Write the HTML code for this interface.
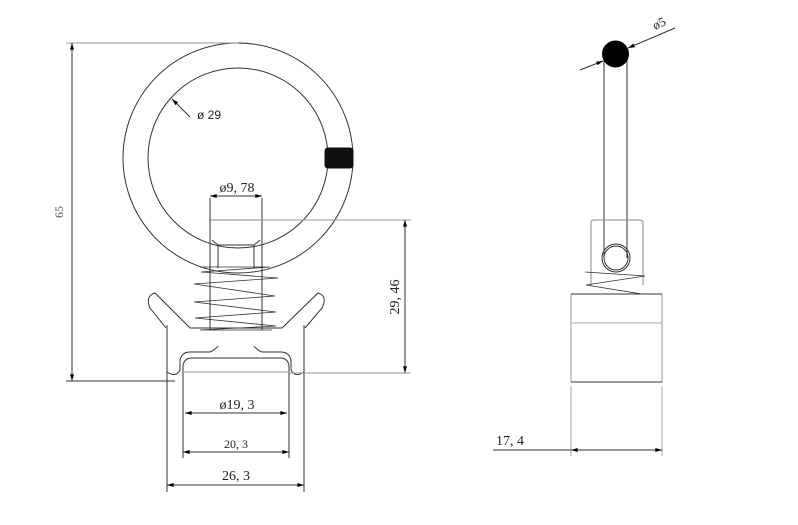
<!DOCTYPE html>
<html><head><style>html,body{margin:0;padding:0;background:#fff}svg{display:block}</style></head>
<body>
<svg width="798" height="525" viewBox="0 0 798 525" xmlns="http://www.w3.org/2000/svg" font-family="Liberation Serif, serif">
<defs>
<marker id="a" viewBox="0 0 10 6" refX="10" refY="3" markerWidth="8" markerHeight="4" orient="auto-start-reverse"><path d="M0,0L10,3L0,6z" fill="#000"/></marker>
</defs>
<g fill="none" stroke="#333" stroke-width="1">
<!-- ring -->
<circle cx="238" cy="158" r="115"/>
<circle cx="238" cy="158" r="90"/>
<!-- plug -->
<rect x="325" y="148" width="28" height="20" rx="3" fill="#111" stroke="#111"/>
<!-- shaft -->
<line x1="210" y1="198" x2="210" y2="330"/>
<line x1="262" y1="198" x2="262" y2="330"/>
<line x1="210" y1="220" x2="262" y2="220" stroke="#888"/>
<path d="M212,240 L218,245 L254,245 L260,240 M218,245 L218,268 M254,245 L254,268"/>
<!-- spring -->
<path d="M200,267 L270,267 L201,272 L278,278 L194,284 L275,296 L194,302 L276,312 L195,318 L276,326 L200,330 L272,330" stroke-width="0.8"/>
<!-- clip arms -->
<path d="M166,328 L150,308 Q145,296 155,293 L190,328 L282,328 L318,293 Q328,296 322,308 L305,328"/>
<!-- body -->
<line x1="167" y1="325" x2="167" y2="492"/>
<line x1="304" y1="325" x2="304" y2="492"/>
<path d="M167,372 Q176,378 180,370 L180,360 Q182,352 190,352 L210,352 Q215,350 218,346"/>
<path d="M304,372 Q295,378 291,370 L291,360 Q289,352 281,352 L262,352 Q257,350 254,346"/>
<path d="M183,458 L183,366 Q184,358 192,358 L280,358 Q288,358 289,366 L289,458"/>
<line x1="183" y1="372" x2="289" y2="372" stroke="#999"/>
<!-- dim 65 -->
<line x1="66" y1="43" x2="238" y2="43" stroke="#999"/>
<line x1="66" y1="381" x2="175" y2="381"/>
<line x1="72" y1="43" x2="72" y2="381" marker-start="url(#a)" marker-end="url(#a)"/>
<!-- dim 29,46 -->
<line x1="262" y1="220" x2="411" y2="220" stroke="#999"/>
<line x1="290" y1="373" x2="411" y2="373" stroke="#999"/>
<line x1="405" y1="220" x2="405" y2="373" marker-start="url(#a)" marker-end="url(#a)"/>
<!-- dim 9,78 -->
<line x1="210" y1="196" x2="262" y2="196" marker-start="url(#a)" marker-end="url(#a)"/>
<!-- dims bottom -->
<line x1="185" y1="413" x2="287" y2="413" marker-start="url(#a)" marker-end="url(#a)"/>
<line x1="183" y1="452" x2="289" y2="452" marker-start="url(#a)" marker-end="url(#a)"/>
<line x1="167" y1="485" x2="304" y2="485" marker-start="url(#a)" marker-end="url(#a)"/>
<!-- ø29 leader -->
<line x1="172" y1="99" x2="190" y2="117" marker-start="url(#a)"/>
<!-- right view -->
<line x1="604" y1="55" x2="604" y2="258"/>
<line x1="627" y1="55" x2="627" y2="258"/>
<circle cx="615.5" cy="54" r="13" fill="#000" stroke="#000"/>
<path d="M591,285 L591,223 Q591,220 594,220 L640,220 Q643,220 643,223 L643,285" stroke="#888"/>
<circle cx="616" cy="258" r="14"/>
<circle cx="616" cy="258" r="12"/>
<path d="M585,272 L645,276 L586,285 L642,294" stroke-width="0.8"/>
<rect x="571" y="294" width="91" height="88" stroke="#999"/>
<line x1="571" y1="294" x2="662" y2="294" stroke="#333"/>
<line x1="571" y1="382" x2="662" y2="382" stroke="#333"/>
<line x1="571" y1="323" x2="662" y2="323" stroke="#aaa"/>
<line x1="571" y1="386" x2="571" y2="456" stroke="#aaa"/>
<line x1="662" y1="386" x2="662" y2="456" stroke="#aaa"/>
<line x1="493" y1="450" x2="662" y2="450" marker-end="url(#a)"/>
<line x1="571" y1="450" x2="590" y2="450" marker-start="url(#a)"/>
<line x1="580" y1="70" x2="603" y2="61" marker-end="url(#a)"/>
<line x1="675" y1="28" x2="628" y2="48" marker-end="url(#a)"/>
</g>
<g fill="#222" font-size="14">
<text x="63" y="212" transform="rotate(-90 63 212)" font-size="12" text-anchor="middle" fill="#555">65</text>
<text x="399" y="297" transform="rotate(-90 399 297)" text-anchor="middle">29, 46</text>
<text x="237" y="192" text-anchor="middle">ø9, 78</text>
<text x="237" y="409" text-anchor="middle">ø19, 3</text>
<text x="236" y="448" text-anchor="middle" font-size="12">20, 3</text>
<text x="236" y="480" text-anchor="middle">26, 3</text>
<text x="197" y="119" font-family="Liberation Sans, sans-serif" font-size="12">ø 29</text>
<text x="496" y="445">17, 4</text>
<text x="655" y="30" transform="rotate(-25 655 30)" font-size="13">ø5</text>
</g>
</svg>
</body></html>
